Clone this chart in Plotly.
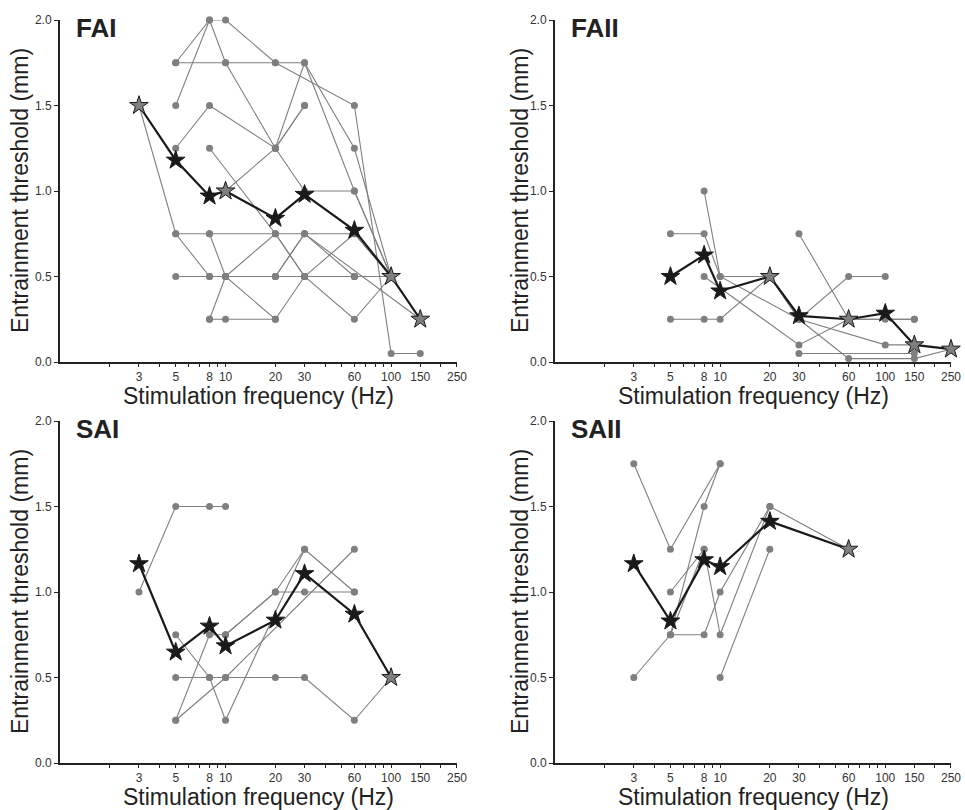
import plotly.graph_objects as go

# ---------------- data ----------------
PANELS = ["FAI", "FAII", "SAI", "SAII"]

# individual afferents: (frequencies Hz, thresholds mm)
FAI_AFFERENTS = [
    ([5, 8, 10, 20, 60, 100, 150], [1.75, 2.0, 2.0, 1.75, 1.5, 0.05, 0.05]),
    ([5, 8, 10, 20, 30, 60, 100], [1.5, 2.0, 1.75, 1.25, 1.0, 1.0, 0.5]),
    ([5, 10, 20, 30, 60, 100], [1.75, 1.75, 1.75, 1.75, 1.25, 0.5]),
    ([5, 8, 20, 30, 60, 100], [1.25, 1.5, 1.25, 1.75, 1.0, 0.5]),
    ([10, 20, 30], [1.0, 1.25, 1.5]),
    ([3, 5, 8, 10, 20, 30, 60, 100], [1.5, 0.75, 0.5, 0.5, 0.5, 0.5, 0.5, 0.5]),
    ([5, 8, 20, 30, 60, 100], [0.75, 0.75, 0.75, 0.75, 0.75, 0.5]),
    ([8, 10, 20, 30, 60, 100], [0.75, 0.5, 0.75, 0.5, 0.25, 0.5]),
    ([8, 10, 20, 30, 60, 100, 150], [0.25, 0.5, 0.25, 0.5, 0.75, 0.5, 0.25]),
    ([8, 10, 20], [0.25, 0.25, 0.25]),
    ([5, 8, 10, 20, 30, 60], [0.5, 0.5, 0.5, 0.5, 0.75, 0.5]),
    ([8, 20, 30, 60, 100], [1.25, 0.75, 0.5, 0.5, 0.5]),
    ([20, 30, 150], [0.5, 0.75, 0.25]),
    ([20, 30], [1.25, 1.5]),
]
FAII_AFFERENTS = [
    ([5, 8, 10, 20, 30, 60, 100], [0.75, 0.75, 0.5, 0.5, 0.25, 0.5, 0.5]),
    ([8, 10, 30, 100, 150], [1.0, 0.5, 0.25, 0.1, 0.1]),
    ([5, 8, 10, 20, 30, 60, 150, 250], [0.25, 0.25, 0.25, 0.5, 0.25, 0.02, 0.02, 0.075]),
    ([8, 30, 60, 100, 150], [0.5, 0.1, 0.25, 0.25, 0.25]),
    ([30, 60, 150], [0.75, 0.25, 0.25]),
    ([30, 150], [0.05, 0.05]),
]
SAI_AFFERENTS = [
    ([3, 5, 8, 10], [1.0, 1.5, 1.5, 1.5]),
    ([5, 8, 10, 30, 60], [0.75, 0.5, 0.25, 1.25, 1.0]),
    ([5, 8, 10, 20, 30, 60, 100], [0.5, 0.5, 0.5, 0.5, 0.5, 0.25, 0.5]),
    ([5, 8, 10, 20, 30, 60], [0.25, 0.75, 0.75, 1.0, 1.0, 1.0]),
    ([5, 10, 60], [0.25, 0.5, 1.25]),
    ([10, 20, 30], [0.75, 1.0, 1.25]),
]
SAII_AFFERENTS = [
    ([3, 5, 10], [1.75, 1.25, 1.75]),
    ([3, 5, 8, 10, 20, 60], [0.5, 0.75, 0.75, 1.0, 1.5, 1.25]),
    ([5, 8, 10, 20], [1.0, 1.25, 0.75, 1.5]),
    ([5, 8, 10], [0.75, 1.5, 1.75]),
    ([5, 8], [0.75, 1.25]),
    ([10, 20], [0.5, 1.25]),
]

# population means (stars)
FAI_MEAN_F = [3, 5, 8, 10, 20, 30, 60, 100, 150]
FAI_MEAN_V = [1.5, 1.18, 0.97, 1.0, 0.84, 0.98, 0.77, 0.5, 0.25]
FAI_MEAN_GRAY = [True, False, False, True, False, False, False, True, True]

FAII_MEAN_F = [5, 8, 10, 20, 30, 60, 100, 150, 250]
FAII_MEAN_V = [0.5, 0.625, 0.415, 0.5, 0.27, 0.25, 0.285, 0.1, 0.075]
FAII_MEAN_GRAY = [False, False, False, True, False, True, False, True, True]

SAI_MEAN_F = [3, 5, 8, 10, 20, 30, 60, 100]
SAI_MEAN_V = [1.165, 0.648, 0.8, 0.685, 0.835, 1.107, 0.87, 0.5]
SAI_MEAN_GRAY = [False, False, False, False, False, False, False, True]

SAII_MEAN_F = [3, 5, 8, 10, 20, 60]
SAII_MEAN_V = [1.165, 0.83, 1.188, 1.148, 1.413, 1.25]
SAII_MEAN_GRAY = [False, False, False, False, False, True]

X_TICK_VALS = [2, 3, 4, 5, 6, 7, 8, 9, 10, 20, 30, 40, 50, 60, 70, 80, 90, 100, 150, 200, 250]
X_TICK_TEXT = ["", "3", "", "5", "", "", "8", "", "10", "20", "30", "", "", "60", "", "", "",
               "100", "150", "", "250"]
Y_TICK_VALS = [0.0, 0.5, 1.0, 1.5, 2.0]
Y_TICK_TEXT = ["0.0", "0.5", "1.0", "1.5", "2.0"]

X_TITLE = "Stimulation frequency (Hz)"
Y_TITLE = "Entrainment threshold (mm)"

DATA = {
    "FAI": (FAI_AFFERENTS, FAI_MEAN_F, FAI_MEAN_V, FAI_MEAN_GRAY),
    "FAII": (FAII_AFFERENTS, FAII_MEAN_F, FAII_MEAN_V, FAII_MEAN_GRAY),
    "SAI": (SAI_AFFERENTS, SAI_MEAN_F, SAI_MEAN_V, SAI_MEAN_GRAY),
    "SAII": (SAII_AFFERENTS, SAII_MEAN_F, SAII_MEAN_V, SAII_MEAN_GRAY),
}

# ---------------- layout ----------------
W, H = 965, 810
GRAY = "#7f7f7f"
DARK = "#1a1a1a"
FONT = "Liberation Sans, Arial, sans-serif"

# panel pixel boxes: (left, right) and (top, bottom)
X_PX = [(60, 457), (555, 951)]
Y_PX = [(20, 362), (421, 763)]
x_doms = [[l / W, r / W] for l, r in X_PX]
y_doms = [[1 - b / H, 1 - t / H] for t, b in Y_PX]
YTITLE_X = [20, 520]

fig = go.Figure()
annotations = []
layout = dict(
    width=W, height=H,
    margin=dict(l=0, r=0, t=0, b=0, autoexpand=False),
    paper_bgcolor="white", plot_bgcolor="white",
    showlegend=False,
    font=dict(family=FONT, color="#222"),
)

for i, name in enumerate(PANELS):
    row, col = divmod(i, 2)
    idx = "" if i == 0 else str(i + 1)
    xa, ya = "x" + idx, "y" + idx
    afferents, mf, mv, mgray = DATA[name]

    for fx, fy in afferents:
        fig.add_trace(go.Scatter(
            x=fx, y=fy, xaxis=xa, yaxis=ya, mode="lines+markers",
            line=dict(color=GRAY, width=1.1),
            marker=dict(color=GRAY, size=7, symbol="circle"),
            cliponaxis=False, hoverinfo="x+y",
        ))
    fig.add_trace(go.Scatter(
        x=mf, y=mv, xaxis=xa, yaxis=ya, mode="lines+markers",
        line=dict(color=DARK, width=2.2),
        marker=dict(symbol="star", size=14,
                    color=[GRAY if g else DARK for g in mgray],
                    line=dict(color=DARK, width=1)),
        cliponaxis=False, hoverinfo="x+y",
    ))

    layout["xaxis" + idx] = dict(
        type="log", domain=x_doms[col], anchor=ya,
        range=[0, 2.398],
        tickmode="array", tickvals=X_TICK_VALS, ticktext=X_TICK_TEXT,
        ticks="outside", ticklen=3, tickwidth=1.2, tickcolor="#222",
        showline=True, linecolor="#222", linewidth=2,
        showgrid=False, zeroline=False,
        tickfont=dict(size=12, color="#333", family=FONT),
    )
    layout["yaxis" + idx] = dict(
        domain=y_doms[row], anchor=xa,
        range=[0, 2.0],
        tickmode="array", tickvals=Y_TICK_VALS, ticktext=Y_TICK_TEXT,
        ticks="outside", ticklen=4, tickwidth=1.2, tickcolor="#222",
        showline=True, linecolor="#222", linewidth=2,
        showgrid=False, zeroline=False,
        tickfont=dict(size=12, color="#333", family=FONT),
    )
    # panel label
    annotations.append(dict(
        text="<b>%s</b>" % name, xref=xa + " domain", yref=ya + " domain",
        x=0.035, y=1.025, xanchor="left", yanchor="top", showarrow=False,
        font=dict(size=26, color="#222", family=FONT),
    ))
    # x-axis title
    l, r = X_PX[col]
    t, b = Y_PX[row]
    annotations.append(dict(
        text=X_TITLE, xref="paper", yref="paper",
        x=(l + r) / 2 / W, y=1 - (b + 34) / H, xanchor="center", yanchor="middle",
        showarrow=False, font=dict(size=23, color="#222", family=FONT),
    ))
    # y-axis title
    annotations.append(dict(
        text=Y_TITLE, xref="paper", yref="paper", textangle=-90,
        x=YTITLE_X[col] / W, y=1 - (t + b) / 2 / H, xanchor="center", yanchor="middle",
        showarrow=False, font=dict(size=23, color="#222", family=FONT),
    ))

layout["annotations"] = annotations
fig.update_layout(**layout)
fig.write_html("out.html", config={"displayModeBar": False},
               post_script="document.body.style.margin='0px';")
